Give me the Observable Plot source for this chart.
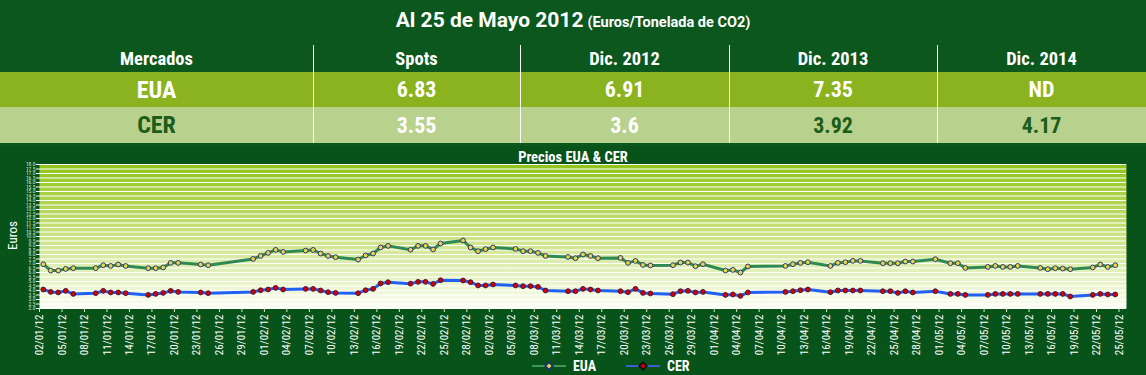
<!DOCTYPE html>
<html><head><meta charset="utf-8">
<script src="https://cdn.jsdelivr.net/npm/d3@7"></script>
<script src="https://cdn.jsdelivr.net/npm/@observablehq/plot@0.6"></script>
<style>
html,body{margin:0;padding:0;}
body{width:1146px;height:375px;background:#0b571d;position:relative;overflow:hidden;
 font-family:"Roboto Condensed","Liberation Sans Narrow","Arial Narrow","DejaVu Sans Condensed",Roboto,sans-serif;color:#fff;}
.abs{position:absolute;}
.cell{position:absolute;display:flex;align-items:center;justify-content:center;font-weight:bold;}
.vline{position:absolute;width:1px;background:#fff;}
</style></head><body>
<div id="app"></div>
<script>
// ---------- table data ----------
const title = "Al 25 de Mayo 2012";
const subtitle = "(Euros/Tonelada de CO2)";
const headers = ["Mercados", "Spots", "Dic. 2012", "Dic. 2013", "Dic. 2014"];
const markets = ["EUA", "CER"];
const euaRow = ["6.83", "6.91", "7.35", "ND"];
const cerRow = ["3.55", "3.6", "3.92", "4.17"];

// ---------- chart data ----------
const chartTitle = "Precios EUA & CER";
const yLabel = "Euros";
const seriesNames = ["EUA", "CER"];
const dates = [
 "02/01/12","03/01/12","04/01/12","05/01/12","06/01/12","09/01/12","10/01/12","11/01/12","12/01/12","13/01/12",
 "16/01/12","17/01/12","18/01/12","19/01/12","20/01/12","23/01/12","24/01/12","30/01/12","31/01/12",
 "01/02/12","02/02/12","03/02/12","06/02/12","07/02/12","08/02/12","09/02/12","10/02/12","13/02/12","14/02/12",
 "15/02/12","16/02/12","17/02/12","20/02/12","21/02/12","22/02/12","23/02/12","24/02/12","27/02/12","28/02/12","29/02/12",
 "01/03/12","02/03/12","05/03/12","06/03/12","07/03/12","08/03/12","09/03/12","12/03/12","13/03/12","14/03/12",
 "15/03/12","16/03/12","19/03/12","20/03/12","21/03/12","22/03/12","23/03/12","26/03/12","27/03/12","28/03/12",
 "29/03/12","30/03/12",
 "02/04/12","03/04/12","04/04/12","05/04/12","10/04/12","11/04/12","12/04/12","13/04/12","16/04/12","17/04/12",
 "18/04/12","19/04/12","20/04/12","23/04/12","24/04/12","25/04/12","26/04/12","27/04/12","30/04/12",
 "02/05/12","03/05/12","04/05/12","07/05/12","08/05/12","09/05/12","10/05/12","11/05/12","14/05/12","15/05/12",
 "16/05/12","17/05/12","18/05/12","21/05/12","22/05/12","23/05/12","24/05/12"
];
const euaValues = [
 6.92,6.22,6.22,6.40,6.48,6.48,6.81,6.73,6.89,6.73,
 6.48,6.48,6.56,7.07,7.07,6.89,6.81,7.51,7.84,
 8.18,8.51,8.29,8.44,8.51,8.11,7.84,7.70,7.44,7.89,
 8.11,8.78,8.96,8.53,8.96,8.96,8.56,9.22,9.56,8.78,8.37,
 8.59,8.78,8.62,8.37,8.37,8.18,7.84,7.73,7.59,8.00,
 7.84,7.59,7.62,7.07,7.29,6.84,6.78,6.81,7.11,7.11,
 6.70,6.92,
 6.22,6.29,6.00,6.67,6.73,6.92,7.07,7.14,6.73,7.07,
 7.14,7.29,7.29,7.03,7.03,7.03,7.22,7.22,7.48,
 7.03,7.03,6.51,6.62,6.73,6.62,6.62,6.73,6.51,6.37,
 6.48,6.44,6.37,6.56,6.89,6.62,6.81
];
const cerValues = [
 4.11,3.84,3.78,3.96,3.62,3.70,3.96,3.78,3.78,3.70,
 3.51,3.62,3.73,3.96,3.84,3.78,3.70,3.84,4.03,
 4.11,4.29,4.11,4.18,4.18,4.00,3.81,3.73,3.70,4.03,
 4.18,4.78,4.92,4.76,4.96,4.96,4.73,5.14,5.11,4.92,4.56,
 4.56,4.67,4.56,4.48,4.48,4.40,4.00,3.92,3.92,4.18,
 4.11,4.00,3.92,3.81,4.18,3.73,3.67,3.59,3.92,3.96,
 3.78,3.84,
 3.51,3.56,3.40,3.78,3.84,3.92,4.03,4.11,3.81,4.00,
 4.00,4.00,4.00,3.92,3.92,3.73,3.92,3.78,3.92,
 3.62,3.62,3.51,3.51,3.62,3.62,3.62,3.62,3.62,3.62,
 3.62,3.62,3.33,3.51,3.62,3.56,3.56
];
const xTickLabels = [
 "02/01/12","05/01/12","08/01/12","11/01/12","14/01/12","17/01/12","20/01/12","23/01/12","26/01/12","29/01/12",
 "01/02/12","04/02/12","07/02/12","10/02/12","13/02/12","16/02/12","19/02/12","22/02/12","25/02/12","28/02/12",
 "02/03/12","05/03/12","08/03/12","11/03/12","14/03/12","17/03/12","20/03/12","23/03/12","26/03/12","29/03/12",
 "01/04/12","04/04/12","07/04/12","10/04/12","13/04/12","16/04/12","19/04/12","22/04/12","25/04/12","28/04/12",
 "01/05/12","04/05/12","07/05/12","10/05/12","13/05/12","16/05/12","19/05/12","22/05/12","25/05/12"
];
const yDomain = [2, 18];
const xDomain = ["02/01/12", "26/05/12"];

// ---------- styles ----------
const colBounds = [0, 313, 520, 729, 937, 1146];
const cerTextColors = ["#1d5c1a", "#ffffff", "#ffffff", "#1d5c1a", "#1d5c1a"];
const euaLine = "#2e8a52", euaFill = "#e4d64a", euaStroke = "#34356f";
const cerLine = "#2060f2", cerFill = "#d40000", cerStroke = "#4a1838";

const app = document.getElementById("app");
function el(tag, cls, style, text) {
  const e = document.createElement(tag);
  if (cls) e.className = cls;
  Object.assign(e.style, style);
  if (text != null) e.textContent = text;
  app.appendChild(e);
  return e;
}

// title
const t = el("div", "abs", {left: "0px", top: "8px", width: "1146px", textAlign: "center", fontWeight: "bold", whiteSpace: "nowrap", fontFamily: "Roboto, 'Liberation Sans', sans-serif"});
t.innerHTML = `<span style="font-size:21px">${title}</span> <span style="font-size:14.5px">${subtitle}</span>`;

// rows
el("div", "abs", {left: "0px", top: "72px", width: "1146px", height: "35px", background: "#8ab31f"});
el("div", "abs", {left: "0px", top: "107px", width: "1146px", height: "36px", background: "#b8d18d"});
headers.forEach((h, i) => {
  el("div", "cell", {left: colBounds[i] + "px", top: "45px", width: (colBounds[i+1]-colBounds[i]) + "px", height: "27px", fontSize: "18.5px"}, h);
});
[markets[0], ...euaRow].forEach((v, i) => {
  el("div", "cell", {left: colBounds[i] + "px", top: "72px", width: (colBounds[i+1]-colBounds[i]) + "px", height: "35px", fontSize: i === 0 ? "24px" : "22px", color: "#fff"}, v);
});
[markets[1], ...cerRow].forEach((v, i) => {
  el("div", "cell", {left: colBounds[i] + "px", top: "107px", width: (colBounds[i+1]-colBounds[i]) + "px", height: "36px", fontSize: i === 0 ? "24px" : "22px", color: cerTextColors[i]}, v);
});
for (let i = 1; i < 5; i++) el("div", "vline", {left: colBounds[i] + "px", top: "45px", height: "98px"});

// chart section background
el("div", "abs", {left: "0px", top: "146px", width: "1146px", height: "229px", background: "#07531a"});
el("div", "abs", {left: "0px", top: "149px", width: "1146px", textAlign: "center", fontSize: "14.5px", fontWeight: "bold"}, chartTitle);
el("div", "abs", {left: "-18px", top: "228px", width: "60px", textAlign: "center", fontSize: "13px", transform: "rotate(-90deg)"}, yLabel);

// plot
const parse = d3.utcParse("%d/%m/%y");
const half = 12 * 3600 * 1000;
const rows = dates.map((d, i) => ({date: new Date(parse(d).getTime() + half), eua: euaValues[i], cer: cerValues[i]}));
const xTicks = xTickLabels.map(parse);
const yTicks = d3.range(yDomain[0] * 2, yDomain[1] * 2 + 1).map(k => k / 2);

const plot = Plot.plot({
  width: 1146, height: 208,
  marginLeft: 39, marginRight: 20, marginTop: 14, marginBottom: 50,
  style: {background: "transparent", color: "#fff", fontFamily: "'Roboto Condensed','Liberation Sans Narrow','Arial Narrow',sans-serif"},
  x: {type: "utc", domain: xDomain.map(parse)},
  y: {domain: yDomain},
  marks: [
    Plot.frame({fill: "url(#bgGrad)", stroke: "none"}),
    Plot.ruleY(yTicks, {stroke: "#fff", strokeWidth: 1.2}),
    Plot.axisY({ticks: yTicks, tickFormat: d3.format(".1f"), tickSize: 3, fontSize: 5.5, stroke: "#fff", fill: "#d9e3d0", tickPadding: 1, label: null}),
    Plot.axisX({ticks: xTicks, tickFormat: d3.utcFormat("%d/%m/%y"), tickRotate: -90, tickSize: 4, tickPadding: 2, fontSize: 11, stroke: "#dfe8d0", fill: "#fff", label: null}),
    Plot.line(rows, {x: "date", y: "eua", stroke: euaLine, strokeWidth: 3}),
    Plot.dot(rows, {x: "date", y: "eua", r: 2.4, fill: euaFill, stroke: euaStroke, strokeWidth: 1}),
    Plot.line(rows, {x: "date", y: "cer", stroke: cerLine, strokeWidth: 3}),
    Plot.dot(rows, {x: "date", y: "cer", r: 2.4, fill: cerFill, stroke: cerStroke, strokeWidth: 1})
  ]
});
const ns = "http://www.w3.org/2000/svg";
const defs = document.createElementNS(ns, "defs");
const lg = document.createElementNS(ns, "linearGradient");
lg.setAttribute("id", "bgGrad"); lg.setAttribute("x1", "0"); lg.setAttribute("y1", "0"); lg.setAttribute("x2", "0"); lg.setAttribute("y2", "1");
[[0, "#90c41a"], [0.45, "#c6e07a"], [1, "#fbfdf3"]].forEach(([o, c]) => {
  const s = document.createElementNS(ns, "stop"); s.setAttribute("offset", o); s.setAttribute("stop-color", c); lg.appendChild(s);
});
defs.appendChild(lg);
plot.insertBefore(defs, plot.firstChild);
const holder = el("div", "abs", {left: "0px", top: "150px"});
holder.appendChild(plot);

// legend
function swatch(x, line, fill, stroke, name) {
  const d = el("div", "abs", {left: x + "px", top: "358px", height: "16px", display: "flex", alignItems: "center", fontWeight: "bold", fontSize: "14px"});
  d.innerHTML = `<svg width="36" height="12" style="margin-right:6px"><line x1="1" y1="6" x2="35" y2="6" stroke="${line}" stroke-width="2"/><path d="M18 1 L23 6 L18 11 L13 6 Z" fill="${stroke}"/><path d="M18 3.5 L20.5 6 L18 8.5 L15.5 6 Z" fill="${fill}"/></svg>${name}`;
}
swatch(531, "#3d9860", euaFill, "#1a2f70", seriesNames[0]);
swatch(625, "#3c5fd2", cerFill, "#111", seriesNames[1]);
</script>
</body></html>
